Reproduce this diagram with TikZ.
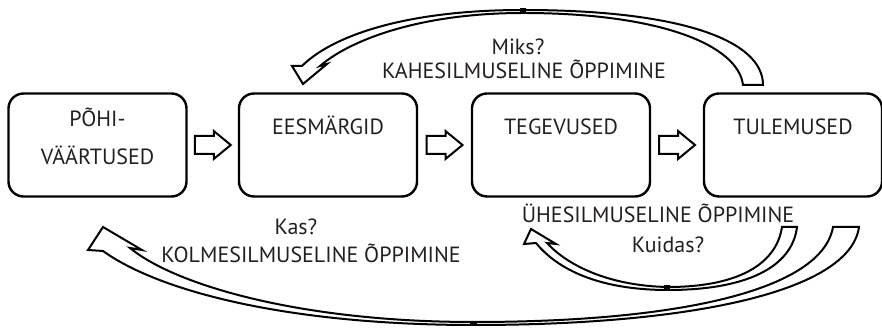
\documentclass[tikz,border=0pt]{standalone}
\usepackage{fontspec}
\setmainfont{PT Sans}
\usetikzlibrary{positioning,calc}
\definecolor{txt}{RGB}{35,31,32}
\tikzset{
  box/.style={draw, rounded corners=7.5pt, line width=1.2pt,
    minimum width=89pt, minimum height=51.5pt, inner sep=0pt},
  lbl/.style={text=txt, font=\fontsize{11}{19}\selectfont, inner sep=0pt},
  fwd/.style={draw, fill=white, line width=1pt, line join=miter},
  band/.style={draw, fill=white, line width=1pt, line join=miter},
}
\begin{document}
\begin{tikzpicture}[x=0.5pt,y=-0.5pt]
	\useasboundingbox (0,0) rectangle (882,330);
	% boxes
	\node[box] (b1) at (97.5,145) {};
	\node[box] (b2) at (328,145) {};
	\node[box] (b3) at (561,145) {};
	\node[box] (b4) at (793,145) {};
	\node[lbl, align=center, anchor=base] (t1) at ([yshift=-36pt]b1.north) {PÕHI-\\VÄÄRTUSED};
	\node[lbl, anchor=base] (t2) at ([yshift=-21pt]b2.north) {EESMÄRGID};
	\node[lbl, anchor=base] (t3) at ([yshift=-21pt]b3.north) {TEGEVUSED};
	\node[lbl, anchor=base] (t4) at ([yshift=-21pt]b4.north) {TULEMUSED};
	% arrows between the boxes
	\foreach \a/\b in {b1/b2,b2/b3,b3/b4}
		\draw[fwd] ($(\a.east)!0.5!(\b.west)$) ++(-18,-9) -- ++(19,0) -- ++(0,-5)
			-- ++(17,14) -- ++(-17,14) -- ++(0,-5) -- ++(-19,0) -- cycle;
	% double loop
	\draw[band] (763,85) .. controls (763,40) and (680,10) .. (523,10)
		.. controls (400,10) and (330,38) .. (302,66)
		-- (292,66) -- (303,84) -- (327,64) -- (320,66)
		.. controls (350,40) and (420,13) .. (523,13)
		.. controls (660,13) and (738,45) .. (743,85) -- cycle;
	\fill (520,8) rectangle (526,12);
	% single loop
	\draw[band] (797,227) .. controls (792,268) and (745,290) .. (668,290)
		.. controls (600,290) and (558,270) .. (536,243)
		-- (524,244) -- (531,229) -- (556,244) -- (547,243)
		.. controls (568,266) and (610,286) .. (668,287)
		.. controls (735,287) and (776,266) .. (782,227) -- cycle;
	\fill (664,285) rectangle (670,289);
	% triple loop
	\draw[band] (859,227) .. controls (850,292) and (690,325) .. (474,325)
		.. controls (290,325) and (160,292) .. (103,251)
		-- (88,250) -- (103,227) -- (142,250) -- (130,248)
		.. controls (175,285) and (300,322) .. (474,322)
		.. controls (680,322) and (822,290) .. (833,227) -- cycle;
	\fill (470,322) rectangle (477,326);
	% loop labels
	\node[lbl, anchor=base] (miks) at (518,55) {Miks?};
	\node[lbl, anchor=base] (kahe) at (524,79) {KAHESILMUSELINE ÕPPIMINE};
	\node[lbl, anchor=base] (kas) at (296,235) {Kas?};
	\node[lbl, anchor=base] (kolme) at (311,263) {KOLMESILMUSELINE ÕPPIMINE};
	\node[lbl, anchor=base] (yhe) at (658,223) {ÜHESILMUSELINE ÕPPIMINE};
	\node[lbl, anchor=base] (kuidas) at (668,253) {Kuidas?};
\end{tikzpicture}
\end{document}
